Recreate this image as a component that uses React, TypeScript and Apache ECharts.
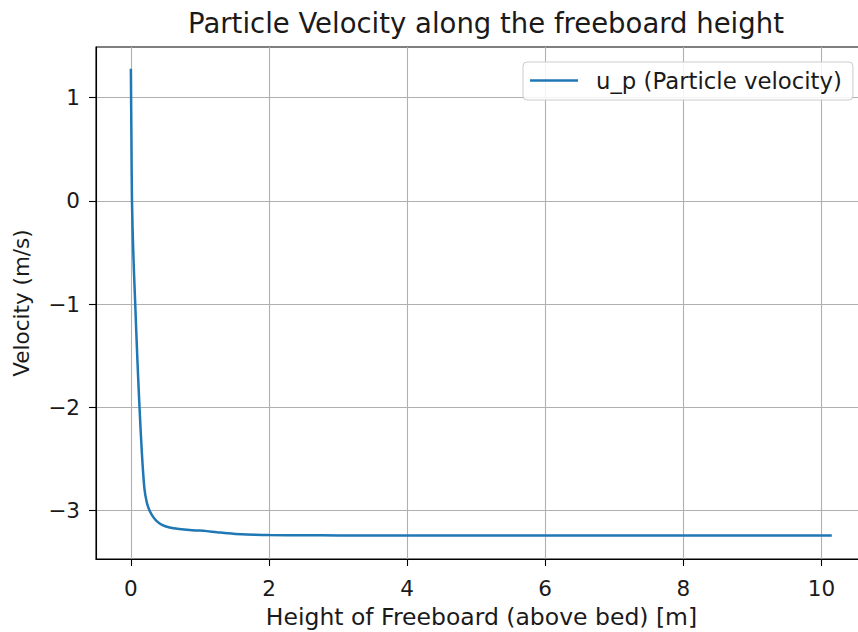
import React, { useEffect, useRef } from "react";
import * as echarts from "echarts";

// Height above bed [m] and particle velocity u_p [m/s]
const heights = [
  0, 0.008, 0.016, 0.035, 0.063, 0.095, 0.125, 0.16, 0.195, 0.23, 0.27, 0.32,
  0.37, 0.45, 0.56, 0.7, 0.85, 1.0, 1.1, 1.25, 1.4, 1.6, 1.8, 2.0, 2.5, 3, 4,
  5, 6, 7, 8, 9, 10.15,
];
const velocities = [
  1.28, 0.6, 0, -0.5, -1.0, -1.55, -2.0, -2.45, -2.78, -2.92, -3.0, -3.06,
  -3.1, -3.14, -3.165, -3.18, -3.19, -3.195, -3.2, -3.21, -3.22, -3.23, -3.235,
  -3.238, -3.24, -3.242, -3.243, -3.243, -3.243, -3.243, -3.243, -3.243, -3.243,
];
const xTicks = [0, 2, 4, 6, 8, 10];
const yTicks = [-3, -2, -1, 0, 1];

const FONT = "DejaVu Sans";
const TEXT = "#1a1a1a";

export default function App() {
  const ref = useRef<HTMLDivElement>(null);

  useEffect(() => {
    if (!ref.current) return;
    const chart = echarts.init(ref.current, undefined, { renderer: "svg" });
    const axisCommon = {
      axisLine: { show: true, onZero: false, lineStyle: { color: "#000", width: 1.1 } },
      axisTick: { show: true, inside: false, length: 7, lineStyle: { color: "#000", width: 1.1 } },
      splitLine: { show: true, lineStyle: { color: "#b0b0b0", width: 1.1 } },
    };
    chart.setOption({
      animation: false,
      backgroundColor: "#fff",
      title: {
        text: "Particle Velocity along the freeboard height",
        left: 481,
        top: 4,
        textAlign: "center",
        textStyle: { fontFamily: FONT, fontSize: 27.5, fontWeight: "normal", color: TEXT },
      },
      legend: {
        left: 523,
        top: 62,
        icon: "rect",
        itemWidth: 48,
        itemHeight: 2.5,
        padding: [7, 11, 8, 7],
        backgroundColor: "rgba(255,255,255,0.85)",
        borderColor: "#cccccc",
        borderWidth: 1,
        borderRadius: 4,
        textStyle: { fontFamily: FONT, fontSize: 22.8, color: TEXT, padding: [0, 0, 0, 13] },
        data: ["u_p (Particle velocity)"],
      },
      grid: {
        left: 96,
        top: 47,
        width: 771,
        height: 512,
        containLabel: false,
        outerBoundsMode: "none",
        show: true,
        borderColor: "#000",
        borderWidth: 1.1,
      },
      xAxis: {
        type: "value",
        min: -0.505,
        max: 10.66,
        name: "Height of Freeboard (above bed) [m]",
        nameLocation: "middle",
        nameGap: 46,
        nameTextStyle: { fontFamily: FONT, fontSize: 23.5, color: TEXT },
        ...axisCommon,
        axisTick: { ...axisCommon.axisTick, customValues: xTicks },
        axisLabel: {
          customValues: xTicks,
          fontFamily: FONT,
          fontSize: 21.5,
          color: TEXT,
          margin: 18,
        },
      },
      yAxis: {
        type: "value",
        min: -3.47,
        max: 1.49,
        name: "Velocity (m/s)",
        nameLocation: "middle",
        nameGap: 64,
        nameTextStyle: { fontFamily: FONT, fontSize: 21.5, color: TEXT },
        ...axisCommon,
        axisTick: { ...axisCommon.axisTick, customValues: yTicks },
        axisLabel: {
          customValues: yTicks,
          fontFamily: FONT,
          fontSize: 21.5,
          color: TEXT,
          margin: 16,
          formatter: (v: number) => (v < 0 ? "\u2212" + Math.abs(v) : String(v)),
        },
      },
      series: [
        {
          name: "u_p (Particle velocity)",
          type: "line",
          data: heights.map((h, i) => [h, velocities[i]]),
          showSymbol: false,
          smooth: 0.3,
          lineStyle: { color: "#1f77b4", width: 2.5 },
          itemStyle: { color: "#1f77b4" },
        },
      ],
    });
    return () => chart.dispose();
  }, []);

  return <div ref={ref} style={{ width: 858, height: 632, position: "absolute", left: 0, top: 0 }} />;
}
